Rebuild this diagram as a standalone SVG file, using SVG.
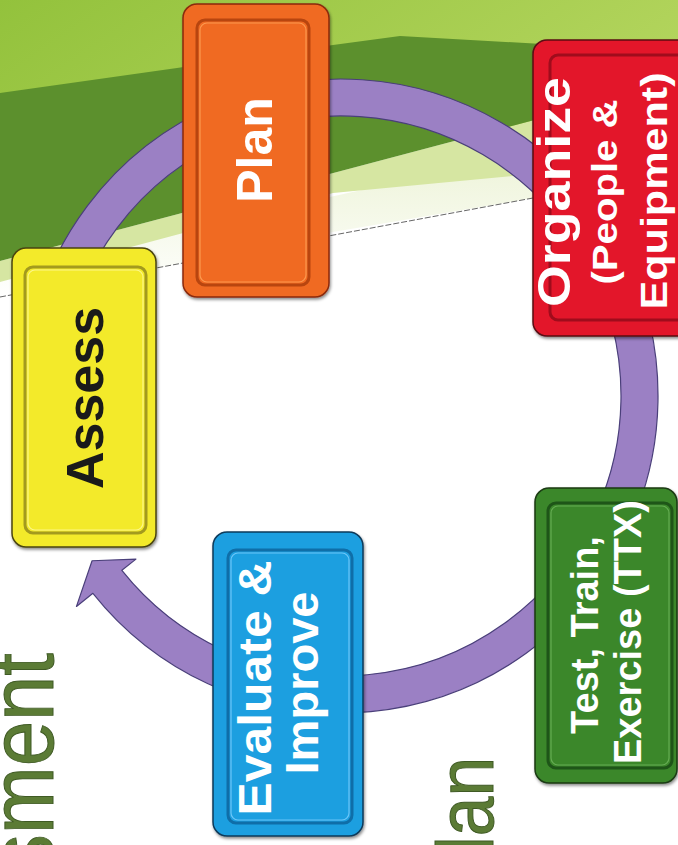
<svg xmlns="http://www.w3.org/2000/svg" width="678" height="845" viewBox="0 0 678 845">
  <defs>
    <linearGradient id="lightGreen" x1="0" y1="0" x2="1" y2="0.3">
      <stop offset="0" stop-color="#93c23c"/>
      <stop offset="1" stop-color="#b2d45c"/>
    </linearGradient>
    <linearGradient id="paleBand" x1="0" y1="0" x2="0" y2="1">
      <stop offset="0" stop-color="#e9f1cf"/>
      <stop offset="1" stop-color="#ffffff"/>
    </linearGradient>
    <filter id="shadow" x="-10%" y="-10%" width="125%" height="125%">
      <feDropShadow dx="1" dy="2" stdDeviation="1.5" flood-color="#000" flood-opacity="0.45"/>
    </filter>
    <style>
      .outer { stroke-width: 1.5; }
      .inner { fill: none; stroke-width: 3; }
      .hi { fill: none; stroke-width: 1.2; opacity: 0.8; }
      .lbl { font-family: "Liberation Sans", Arial, Helvetica, sans-serif; font-weight: bold; text-anchor: middle; }
      .title { font-family: "Liberation Sans", Arial, Helvetica, sans-serif; fill: #5b7b35; stroke: #3f5a24; stroke-width: 1; }
      .ring { fill: #9b80c4; stroke: #4a3f7a; stroke-width: 1.2; stroke-linejoin: round; }
    </style>
  </defs>

  <!-- background -->
  <g id="background">
    <rect x="0" y="0" width="678" height="845" fill="#ffffff"/>
    <polygon points="0,0 678,0 678,140 0,110" fill="url(#lightGreen)"/>
    <polygon points="0,300 333,232 533,198 678,175 678,120 0,270" fill="url(#paleBand)"/>
    <polygon points="0,282 333,193 533,174 678,150 678,82 0,261" fill="#d6e6a2"/>
    <polygon points="0,93 177,68 333,45 400,36 560,45 678,50 678,82 0,261" fill="#5c902d"/>
    <line x1="0" y1="297" x2="533" y2="198" stroke="#555" stroke-width="0.9" stroke-dasharray="6 2"/>
  </g>

  <!-- titles cut by the frame -->
  <g id="titles">
    <text class="title" transform="translate(53,653) rotate(-90)" x="0" y="0" font-size="90" text-anchor="end" textLength="222" lengthAdjust="spacingAndGlyphs">sment</text>
    <text class="title" transform="translate(493,757) rotate(-90)" x="0" y="0" font-size="80" text-anchor="end" textLength="95" lengthAdjust="spacingAndGlyphs">lan</text>
  </g>

  <!-- connectors -->
  <g id="connectors">
    <path class="ring" d="M 43.12 504.42 A 317 317 0 1 1 92.91 593.34 L 76.48 606.41 L 92.08 560.75 L 135.96 559.10 L 121.87 570.30 A 280 280 0 1 0 77.89 491.77 Z"/>
  </g>

  <!-- nodes -->
  <g id="node-assess">
    <rect class="outer" x="12" y="248" width="144" height="299" rx="14" fill="#f3ea2b" stroke="#4a4410" filter="url(#shadow)"/>
    <rect class="inner" x="25" y="267" width="121" height="266" rx="8" stroke="#a39a1e"/>
    <rect class="hi" x="28" y="270" width="115" height="260" rx="7" stroke="#fffaa0"/>
    <text class="lbl" transform="translate(103,398) rotate(-90)" x="0" y="0" font-size="52" fill="#1a1a1a">Assess</text>
  </g>

  <g id="node-plan">
    <rect class="outer" x="183" y="4" width="146" height="293" rx="14" fill="#f06b22" stroke="#8a2a0c" filter="url(#shadow)"/>
    <rect class="inner" x="197" y="20" width="112" height="265" rx="8" stroke="#b8450f"/>
    <rect class="hi" x="200" y="23" width="106" height="259" rx="7" stroke="#ffa55a"/>
    <text class="lbl" transform="translate(272,150) rotate(-90)" x="0" y="0" font-size="50" fill="#ffffff">Plan</text>
  </g>

  <g id="node-organize">
    <rect class="outer" x="533" y="40" width="170" height="296" rx="14" fill="#e3182c" stroke="#5a0a12" filter="url(#shadow)"/>
    <rect class="inner" x="550" y="55" width="150" height="265" rx="8" stroke="#a00c1c"/>
    <text class="lbl" transform="translate(570,192) rotate(-90)" x="0" y="0" font-size="46" fill="#ffffff" textLength="230" lengthAdjust="spacingAndGlyphs">Organize</text>
    <text class="lbl" transform="translate(617,192) rotate(-90)" x="0" y="0" font-size="35" fill="#ffffff" textLength="185" lengthAdjust="spacingAndGlyphs">(People &amp;</text>
    <text class="lbl" transform="translate(667,191) rotate(-90)" x="0" y="0" font-size="36" fill="#ffffff" textLength="237" lengthAdjust="spacingAndGlyphs">Equipment)</text>
  </g>

  <g id="node-test">
    <rect class="outer" x="535" y="488" width="142" height="295" rx="14" fill="#3a872b" stroke="#1a3a12" filter="url(#shadow)"/>
    <rect class="inner" x="548" y="503" width="124" height="265" rx="8" stroke="#1e5518"/>
    <rect class="hi" x="551" y="506" width="118" height="259" rx="7" stroke="#6fb55c"/>
    <text class="lbl" transform="translate(598,635) rotate(-90)" x="0" y="0" font-size="38" fill="#ffffff">Test, Train,</text>
    <text class="lbl" transform="translate(641,632) rotate(-90)" x="0" y="0" font-size="38" fill="#ffffff">Exercise (TTX)</text>
  </g>

  <g id="node-evaluate">
    <rect class="outer" x="213" y="532" width="150" height="304" rx="14" fill="#1e9fe0" stroke="#0c3a5a" filter="url(#shadow)"/>
    <rect class="inner" x="228" y="550" width="124" height="273" rx="8" stroke="#0f6ea8"/>
    <rect class="hi" x="231" y="553" width="118" height="267" rx="7" stroke="#7fd0ff"/>
    <text class="lbl" transform="translate(271,688) rotate(-90)" x="0" y="0" font-size="46" fill="#ffffff" textLength="255" lengthAdjust="spacingAndGlyphs">Evaluate &amp;</text>
    <text class="lbl" transform="translate(318,683) rotate(-90)" x="0" y="0" font-size="46" fill="#ffffff" textLength="183" lengthAdjust="spacingAndGlyphs">Improve</text>
  </g>
</svg>
